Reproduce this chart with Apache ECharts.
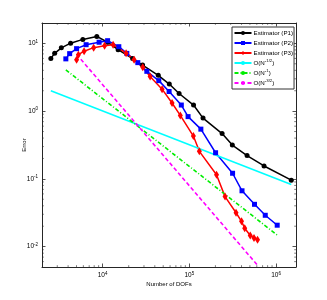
<!DOCTYPE html>
<html><head><meta charset="utf-8">
<script src="https://cdn.jsdelivr.net/npm/echarts@6/dist/echarts.min.js"></script>
<style>html,body{margin:0;padding:0;background:#fff}#c{width:327px;height:300px}</style>
</head><body><div id="c"></div>
<script>
// ---- data ----
const p1Dofs = [2529,2800,3342,4275,5915,8575,11420,15100,22190,28900,43850,58750,76220,111900,143900,238800,313400,463500,727900,1500000];
const p1Err  = [6.0,7.13,8.59,10.07,11.45,12.67,10.4,8.08,5.96,4.78,3.38,2.51,1.82,1.23,0.789,0.466,0.316,0.221,0.155,0.0957];
const p2Dofs = [3767,4168,5010,6455,9113,11420,15380,19020,25470,32360,44440,58480,80890,96780,135900,200900,315500,405300,565000,751500,1032000];
const p2Err  = [5.91,7.06,8.36,9.57,10.4,10.96,8.94,7.12,5.20,3.87,2.82,1.95,1.23,0.830,0.542,0.243,0.121,0.0667,0.0421,0.0290,0.0207];
const p3Dofs = [5010,5260,6120,7880,10540,13210,18670,23070,29060,35300,48530,63230,78700,111400,130600,206000,258200,345900,400000,435500,504400,557500,612000];
const p3Err  = [5.75,6.82,7.67,8.65,9.25,9.57,7.17,5.75,4.44,3.24,2.11,1.32,0.865,0.428,0.255,0.115,0.0547,0.0316,0.0236,0.0187,0.0146,0.0134,0.0126];
const halfDofs  = [2529, 1500000];  const halfErr  = [2.0, 0.0824];
const oneDofs   = [3767, 1032000];  const oneErr   = [4.06, 0.0148];
const threeDofs = [5010, 612000];   const threeErr = [6.9, 0.0053];
const seriesNames = ['Estimator (P1)','Estimator (P2)','Estimator (P3)','O(N^{-1/2})','O(N^{-1})','O(N^{-3/2})'];
const xRange = [2000, 1700000];
const yRange = [0.005, 20];
const xMinorTicks = [3000,4000,5000,6000,7000,8000,9000,20000,30000,40000,50000,60000,70000,80000,90000,200000,300000,400000,500000,600000,700000,800000,900000];
const yMinorTicks = [0.006,0.007,0.008,0.009,0.02,0.03,0.04,0.05,0.06,0.07,0.08,0.09,0.2,0.3,0.4,0.5,0.6,0.7,0.8,0.9,2,3,4,5,6,7,8,9];
const xName = 'Number of DOFs';
const yName = 'Error';

const pairs = (xs, ys) => xs.map((x, i) => [x, ys[i]]);
const axisColor = '#262626';
const FONT = 'Liberation Sans, Arial, sans-serif';

function powLabel(v) {
  const l = Math.log10(v), e = Math.round(l);
  if (Math.abs(l - e) > 1e-6) return '';
  return '{b|10}{s|' + e + '}';
}
const richLab = {
  b: {fontSize: 6.5, fontFamily: FONT, color: '#000', lineHeight: 9},
  s: {fontSize: 4.5, fontFamily: FONT, color: '#000', verticalAlign: 'top', lineHeight: 5}
};

function baseAxis(pos, show) {
  return {
    type: 'log', position: pos,
    axisLine: {show: true, onZero: false, lineStyle: {color: axisColor, width: 1}},
    axisTick: {show: true, inside: true, length: 3.5, lineStyle: {color: axisColor, width: 0.8}},
    axisLabel: {show: show, formatter: powLabel, rich: richLab, margin: 4},
    splitLine: {show: false}, minorTick: {show: false}
  };
}

const xAxisMain = Object.assign(baseAxis('bottom', true), {min: xRange[0], max: xRange[1],
  name: xName, nameLocation: 'middle', nameGap: 14, nameMoveOverlap: false,
  nameTextStyle: {fontSize: 6, fontFamily: FONT, color: '#000'}});
const xAxisTop = Object.assign(baseAxis('top', false), {min: xRange[0], max: xRange[1]});
const yAxisMain = Object.assign(baseAxis('left', true), {min: yRange[0], max: yRange[1],
  name: yName, nameLocation: 'middle', nameGap: 15, nameMoveOverlap: false,
  nameTextStyle: {fontSize: 6, fontFamily: FONT, color: '#000'}});
const yAxisRight = Object.assign(baseAxis('right', false), {min: yRange[0], max: yRange[1]});

function minorX(params, api) {
  const cs = params.coordSys;
  const x = api.coord([api.value(0), 1])[0];
  const st = {stroke: axisColor, lineWidth: 0.6};
  return {type: 'group', children: [
    {type: 'line', shape: {x1: x, y1: cs.y + cs.height, x2: x, y2: cs.y + cs.height - 1.8}, style: st},
    {type: 'line', shape: {x1: x, y1: cs.y, x2: x, y2: cs.y + 1.8}, style: st}
  ]};
}
function minorY(params, api) {
  const cs = params.coordSys;
  const y = api.coord([10000, api.value(1)])[1];
  const st = {stroke: axisColor, lineWidth: 0.6};
  return {type: 'group', children: [
    {type: 'line', shape: {x1: cs.x, y1: y, x2: cs.x + 1.8, y2: y}, style: st},
    {type: 'line', shape: {x1: cs.x + cs.width, y1: y, x2: cs.x + cs.width - 1.8, y2: y}, style: st}
  ]};
}

function dataSeries(name, xs, ys, color, symbol, size) {
  return {name: name, type: 'line', data: pairs(xs, ys), xAxisIndex: 0, yAxisIndex: 0,
    showSymbol: true, symbol: symbol, symbolSize: size,
    lineStyle: {color: color, width: 1.5}, itemStyle: {color: color}, emphasis: {disabled: true}, animation: false};
}
function refSeries(name, xs, ys, color, type) {
  return {name: name, type: 'line', data: pairs(xs, ys), xAxisIndex: 0, yAxisIndex: 0,
    showSymbol: false, symbol: 'none',
    lineStyle: {color: color, width: 1.6, type: type}, itemStyle: {color: color}, emphasis: {disabled: true}, animation: false};
}

const legendFmt = n => n.replace(/\^\{([^}]*)\}/, '{s|$1}');

const option = {
  backgroundColor: '#fff',
  animation: false,
  grid: {left: 42, right: 31, top: 23, bottom: 33, containLabel: false},
  xAxis: [xAxisMain, xAxisTop],
  yAxis: [yAxisMain, yAxisRight],
  legend: {
    data: seriesNames, orient: 'vertical', left: 232, top: 27,
    backgroundColor: '#fff', borderColor: '#333', borderWidth: 1, borderRadius: 0,
    padding: [2, 1, 2, 1.5], itemGap: 2, itemWidth: 17, itemHeight: 5,
    formatter: legendFmt,
    textStyle: {fontSize: 6.2, fontFamily: FONT, color: '#000', lineHeight: 8, padding: [0,0,0,-3],
      rich: {s: {fontSize: 4.3, fontFamily: FONT, color: '#000', verticalAlign: 'top', lineHeight: 4}}},
    selectedMode: false
  },
  series: [
    {type: 'custom', renderItem: minorX, data: xMinorTicks.map(v => [v, 1]), silent: true, clip: false, z: 1},
    {type: 'custom', renderItem: minorY, data: yMinorTicks.map(v => [10000, v]), silent: true, clip: false, z: 1},
    dataSeries(seriesNames[0], p1Dofs, p1Err, '#000000', 'circle', 5),
    dataSeries(seriesNames[1], p2Dofs, p2Err, '#0000ff', 'rect', 5),
    dataSeries(seriesNames[2], p3Dofs, p3Err, '#ff0000', 'diamond', [5, 8]),
    refSeries(seriesNames[3], halfDofs, halfErr, '#00ffff', 'solid'),
    refSeries(seriesNames[4], oneDofs, oneErr, '#00ee00', [4, 2, 1, 2]),
    refSeries(seriesNames[5], threeDofs, threeErr, '#ff00ff', [4, 2.5])
  ]
};
const chart = echarts.init(document.getElementById('c'), null, {renderer: 'canvas'});
chart.setOption(option);
</script></body></html>
